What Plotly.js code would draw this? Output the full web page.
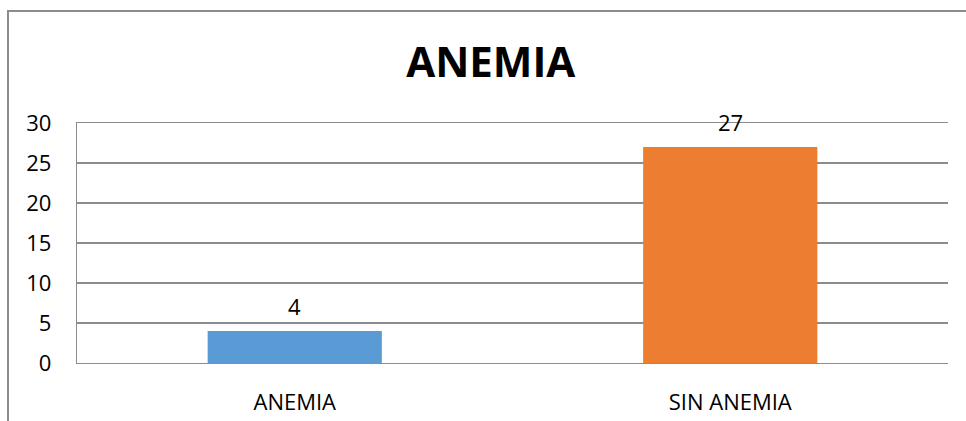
<!DOCTYPE html>
<html>
<head>
<meta charset="utf-8">
<script src="https://cdn.plot.ly/plotly-3.0.1.min.js"></script>
<style>
  html, body { margin: 0; padding: 0; background: #fff; overflow: hidden; }
  #wrap { position: relative; width: 966px; height: 421px; }
  #chart { position: absolute; left: 0; top: 0; width: 966px; height: 421px; }
  #frame {
    position: absolute; left: 7px; top: 10px; width: 970px; height: 420px;
    border-left: 2px solid #8c8c8c; border-top: 2px solid #8c8c8c;
    pointer-events: none;
  }
</style>
</head>
<body>
<div id="wrap">
  <div id="chart"></div>
  <div id="frame"></div>
</div>
<script>
// Anemia status counts
const categories = ["ANEMIA", "SIN ANEMIA"];
const counts = [4, 27];
const barColors = ["#5B9BD5", "#ED7D31"];
const yTicks = [0, 5, 10, 15, 20, 25, 30];

const font = "'Open Sans', 'Liberation Sans', sans-serif";
const gridGray = "#8c8c8c";

const trace = {
  type: "bar",
  x: categories,
  y: counts,
  marker: { color: barColors, line: { width: 0 } },
  hoverinfo: "none"
};

const valueLabels = categories.map((c, i) => ({
  x: c, y: counts[i], xref: "x", yref: "y",
  text: String(counts[i]), showarrow: false,
  yanchor: "middle", yshift: 25,
  font: { family: font, size: 22, color: "#000" }
}));

const layout = {
  width: 966, height: 421,
  margin: { l: 77, r: 18, t: 123, b: 58 },
  paper_bgcolor: "#fff", plot_bgcolor: "#fff",
  showlegend: false,
  bargap: 0.6,
  title: {
    text: "<b>ANEMIA</b>",
    x: 0.508, xanchor: "center", xref: "container",
    y: 0.853, yanchor: "middle", yref: "container",
    font: { family: font, size: 42, color: "#000" }
  },
  xaxis: {
    type: "category",
    showgrid: false, zeroline: false,
    // top and bottom rules of the plot area (values 30 and 0)
    showline: true, mirror: true, linecolor: gridGray, linewidth: 1.3,
    ticks: "outside", ticklen: 19, tickcolor: "rgba(0,0,0,0)",
    tickfont: { family: font, size: 22, color: "#000" },
    fixedrange: true
  },
  yaxis: {
    range: [0, 30],
    tickvals: yTicks,
    showgrid: true, gridcolor: gridGray, gridwidth: 1.3,
    zeroline: false,
    showline: true, linecolor: gridGray, linewidth: 1.3,
    ticks: "outside", ticklen: 20, tickcolor: "rgba(0,0,0,0)",
    tickfont: { family: font, size: 22, color: "#000" },
    fixedrange: true
  },
  annotations: valueLabels
};

Plotly.newPlot("chart", [trace], layout, { displayModeBar: false, staticPlot: true });
</script>
</body>
</html>
